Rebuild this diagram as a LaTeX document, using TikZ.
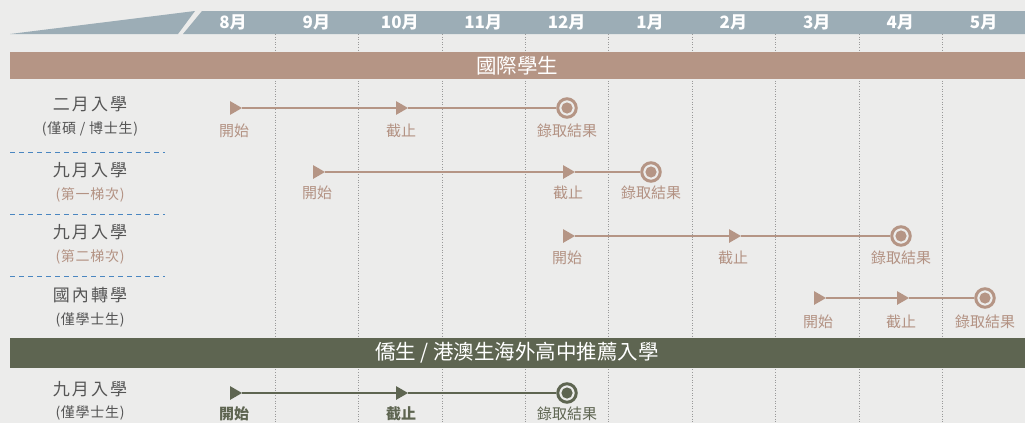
\documentclass[tikz,border=0pt]{standalone}
\usepackage{fontspec}
\setmainfont{Noto Sans CJK TC}
\usetikzlibrary{positioning,shapes.geometric}

\definecolor{paper}{HTML}{ECECEB}
\definecolor{headbar}{HTML}{9CADB6}
\definecolor{intl}{HTML}{B59585}
\definecolor{intltext}{HTML}{B39283}
\definecolor{oversea}{HTML}{5E6551}
\definecolor{sepblue}{HTML}{4A86C0}
\definecolor{rowgray}{HTML}{555555}

\tikzset{
  month/.style={text=white,font=\fontsize{17}{17}\selectfont\bfseries},
  band/.style={fill=#1,draw=none},
  bandtext/.style={text=white,font=\fontsize{20.5}{21}\selectfont},
  rowname/.style={text=rowgray,font=\fontsize{17}{17}\selectfont\addfontfeature{LetterSpace=12}},
  rownote/.style={text=#1,font=\fontsize{14}{14}\selectfont\addfontfeature{LetterSpace=5}},
  startmark/.style={regular polygon,regular polygon sides=3,shape border rotate=-90,
    fill=#1,inner sep=0pt,minimum size=16pt},
  endmark/.style={circle,draw=#1,line width=3pt,fill=paper,inner sep=0pt,minimum size=18.5pt,
    path picture={\fill[#1] (path picture bounding box.center) circle (5.6pt);}},
  steplabel/.style={text=#1,font=\fontsize{15}{15}\selectfont},
  timeline/.style={draw=#1,line width=2pt},
}

\begin{document}
\begin{tikzpicture}[x=1pt,y=-1pt]
    \fill[paper] (0,0) rectangle (1025,423);
    \useasboundingbox (0,0) rectangle (1025,423);

    % header with months
    \fill[headbar] (10,34) -- (195,11) -- (178,34) -- cycle;
    \fill[headbar] (202,11) -- (1025,11) -- (1025,34) -- (183,34) -- cycle;
    \foreach \m [count=\i from 0] in {8,9,10,11,12,1,2,3,4,5}
      \node[month] (m\i) at (233+83.4*\i,22.5) {\m 月};

    % dotted month borders
    \foreach \i in {0,...,8}
      \draw[gray!80,dotted,line width=0.6pt] (275+83.4*\i,34) -- (275+83.4*\i,423);

    % bands
    \fill[band=intl] (10,52) rectangle (1025,79);
    \node[bandtext] (intlband) at (517,65.5) {國際學生};
    \fill[band=oversea] (10,338) rectangle (1025,368);
    \node[bandtext] (overseaband) at (517,353) {僑生 / 港澳生海外高中推薦入學};

    % separators
    \foreach \y in {152,214,276}
      \draw[sepblue,dashed,dash pattern=on 5pt off 4pt,line width=1pt] (10,\y) -- (165,\y);

    % row names
    \node[rowname] (r1) at (90,104) {二月入學};
    \node[rownote=rowgray] (r1n) at (90,129) {(僅碩 / 博士生)};
    \node[rowname] (r2) at (90,170) {九月入學};
    \node[rownote=intltext] (r2n) at (90,195) {(第一梯次)};
    \node[rowname] (r3) at (90,232) {九月入學};
    \node[rownote=intltext] (r3n) at (90,257) {(第二梯次)};
    \node[rowname] (r4) at (90,295) {國內轉學};
    \node[rownote=rowgray] (r4n) at (90,320) {(僅學士生)};
    \node[rowname] (r5) at (90,389) {九月入學};
    \node[rownote=rowgray] (r5n) at (90,413) {(僅學士生)};

    % row 1
    \node[startmark=intl] (s1) at (234,108) {};
    \node[startmark=intl] (c1) at (400,108) {};
    \node[endmark=intl] (e1) at (567,108) {};
    \draw[timeline=intl] (s1) -- (c1) -- (e1);
    \node[steplabel=intltext] at (234,131) {開始};
    \node[steplabel=intltext] at (401,131) {截止};
    \node[steplabel=intltext] at (567,131) {錄取結果};

    % row 2
    \node[startmark=intl] (s2) at (317,172) {};
    \node[startmark=intl] (c2) at (567,172) {};
    \node[endmark=intl] (e2) at (651,172) {};
    \draw[timeline=intl] (s2) -- (c2) -- (e2);
    \node[steplabel=intltext] at (317,193) {開始};
    \node[steplabel=intltext] at (568,193) {截止};
    \node[steplabel=intltext] at (651,193) {錄取結果};

    % row 3
    \node[startmark=intl] (s3) at (567,236) {};
    \node[startmark=intl] (c3) at (733,236) {};
    \node[endmark=intl] (e3) at (901,236) {};
    \draw[timeline=intl] (s3) -- (c3) -- (e3);
    \node[steplabel=intltext] at (567,258) {開始};
    \node[steplabel=intltext] at (733,258) {截止};
    \node[steplabel=intltext] at (901,258) {錄取結果};

    % row 4
    \node[startmark=intl] (s4) at (818,298) {};
    \node[startmark=intl] (c4) at (901,298) {};
    \node[endmark=intl] (e4) at (985,298) {};
    \draw[timeline=intl] (s4) -- (c4) -- (e4);
    \node[steplabel=intltext] at (818,322) {開始};
    \node[steplabel=intltext] at (901,322) {截止};
    \node[steplabel=intltext] at (985,322) {錄取結果};

    % row 5
    \node[startmark=oversea] (s5) at (234,393) {};
    \node[startmark=oversea] (c5) at (400,393) {};
    \node[endmark=oversea] (e5) at (567,393) {};
    \draw[timeline=oversea] (s5) -- (c5) -- (e5);
    \node[steplabel=oversea,font=\fontsize{15}{15}\selectfont\bfseries] at (234,414) {開始};
    \node[steplabel=oversea,font=\fontsize{15}{15}\selectfont\bfseries] at (401,414) {截止};
    \node[steplabel=oversea] at (567,414) {錄取結果};
\end{tikzpicture}
\end{document}
